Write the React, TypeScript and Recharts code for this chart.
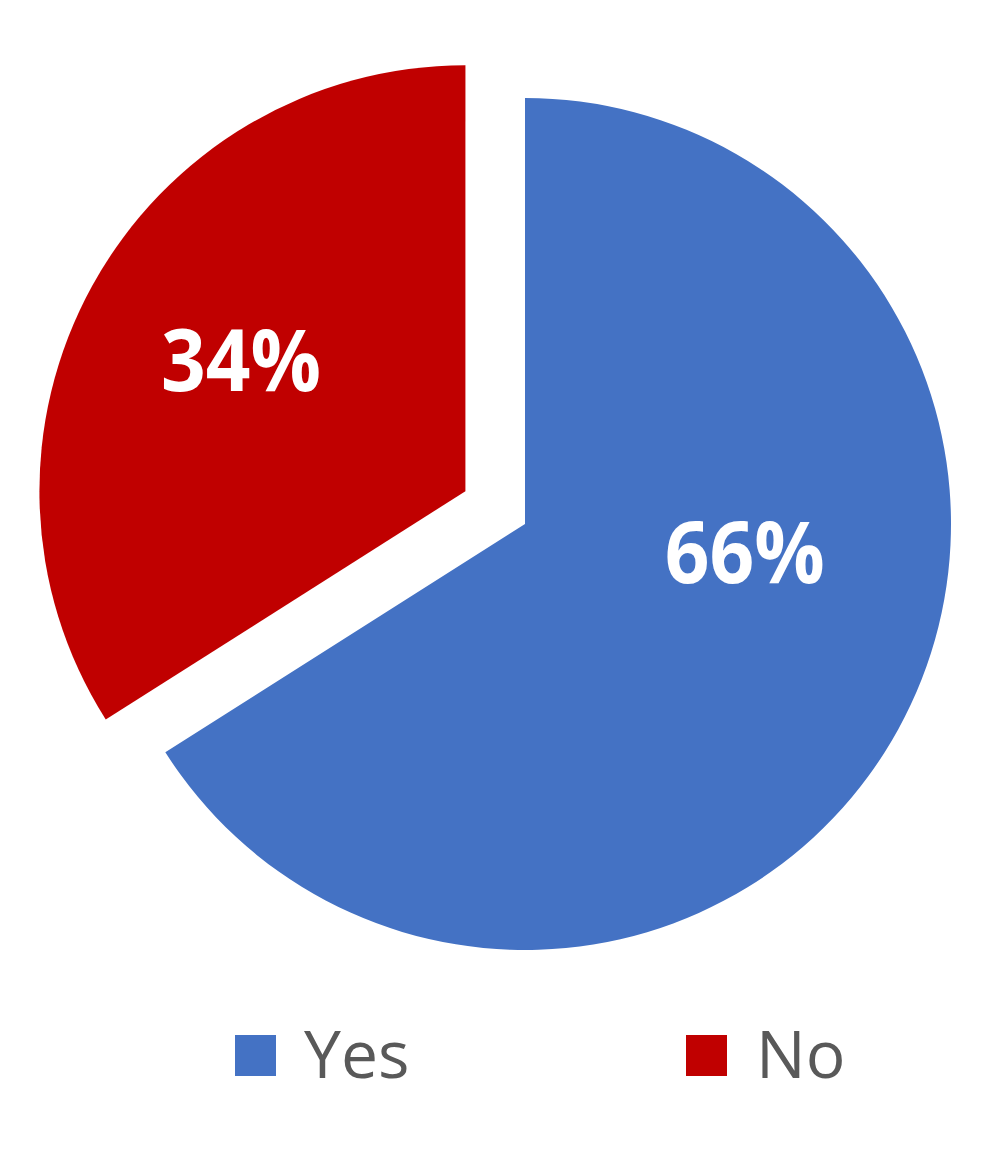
import { PieChart, Pie, Cell, Legend } from "recharts";

const categories = ["Yes", "No"];
const shares = [66, 34];
const colors = ["#4472C4", "#C00000"];

const data = categories.map((name, i) => ({ name, value: shares[i] }));

const WIDTH = 980;
const HEIGHT = 1134;
const CX = 517;
const CY = 516;
const RADIUS = 426;
// the "No" slice is pulled out of the pie
const EXPLODE = 68;
const EXPLODED = 1;

const total = shares.reduce((a, b) => a + b, 0);
const before = shares.slice(0, EXPLODED).reduce((a, b) => a + b, 0);
const explodeMid = 90 - (360 * (before + shares[EXPLODED] / 2)) / total;
const RAD = Math.PI / 180;
const CX2 = CX + EXPLODE * Math.cos(explodeMid * RAD);
const CY2 = CY - EXPLODE * Math.sin(explodeMid * RAD);

const makeLabel = (only: number) => (props: any) => {
  const { cx, cy, midAngle, outerRadius, percent, index } = props;
  if (index !== only) return null;
  // big slice label sits closer to the horizontal, like Excel's best fit
  const angle = percent > 0.5 ? midAngle * 0.25 : midAngle - 1.5;
  const r = outerRadius * (percent > 0.5 ? 0.52 : 0.61);
  const x = cx + r * Math.cos(-angle * RAD);
  const y = cy + r * Math.sin(-angle * RAD);
  return (
    <text
      x={x}
      y={y}
      dy="0.36em"
      textAnchor="middle"
      fill="#ffffff"
      fontFamily="'Open Sans', sans-serif"
      fontWeight={700}
      fontSize={86}
      textLength={160}
      lengthAdjust="spacingAndGlyphs"
    >
      {`${Math.round(percent * 100)}%`}
    </text>
  );
};

const LegendContent = () => (
  <svg width={WIDTH} height={110} style={{ overflow: "visible" }}>
    {categories.map((name, i) => (
      <g key={name}>
        <rect x={227 + i * 451} y={27} width={41} height={41} fill={colors[i]} />
        <text
          x={296 + i * 452}
          y={70}
          fill="#595959"
          fontFamily="'Open Sans', sans-serif"
          fontSize={66}
        >
          {name}
        </text>
      </g>
    ))}
  </svg>
);

export default function App() {
  return (
    <div style={{ width: WIDTH, height: HEIGHT, background: "#fff" }}>
      <PieChart
        width={WIDTH}
        height={HEIGHT}
        margin={{ top: 0, right: 0, bottom: 0, left: 0 }}
      >
        <Pie
          data={data}
          dataKey="value"
          nameKey="name"
          cx={CX}
          cy={CY}
          outerRadius={RADIUS}
          startAngle={90}
          endAngle={-270}
          stroke="none"
          labelLine={false}
          label={makeLabel(0)}
          isAnimationActive={false}
        >
          {data.map((d, i) => (
            <Cell key={d.name} fill={i === EXPLODED ? "none" : colors[i]} />
          ))}
        </Pie>
        <Pie
          data={data}
          dataKey="value"
          nameKey="name"
          cx={CX2}
          cy={CY2}
          outerRadius={RADIUS}
          startAngle={90}
          endAngle={-270}
          stroke="none"
          labelLine={false}
          label={makeLabel(1)}
          isAnimationActive={false}
        >
          {data.map((d, i) => (
            <Cell key={d.name} fill={i === EXPLODED ? colors[i] : "none"} />
          ))}
        </Pie>
        <Legend
          content={<LegendContent />}
          wrapperStyle={{ position: "absolute", top: 1000, left: 0, width: WIDTH }}
        />
      </PieChart>
    </div>
  );
}
